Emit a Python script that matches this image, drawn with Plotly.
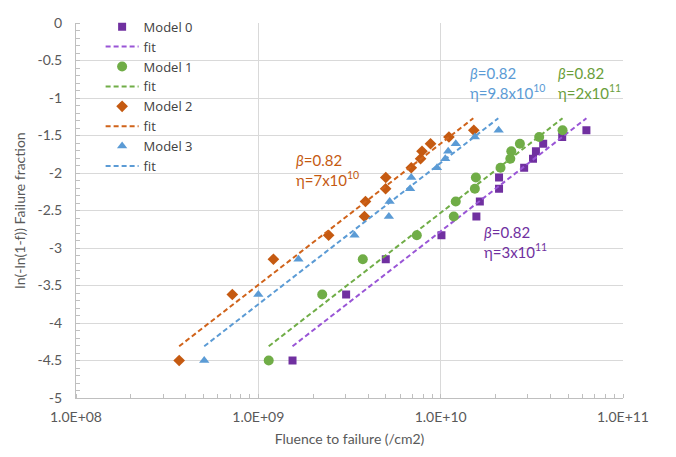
import plotly.graph_objects as go

# ---- data ----
y_rank = [-4.5, -3.62, -3.15, -2.83, -2.58, -2.38, -2.21, -2.06, -1.93, -1.81, -1.71, -1.61, -1.52, -1.43]

x_model0 = [1.54e9, 3.03e9, 5.0e9, 1.01e10, 1.57e10, 1.64e10, 2.09e10, 2.09e10, 2.87e10, 3.21e10, 3.33e10, 3.65e10, 4.64e10, 6.3e10]
x_model1 = [1.14e9, 2.24e9, 3.74e9, 7.4e9, 1.18e10, 1.21e10, 1.54e10, 1.56e10, 2.13e10, 2.41e10, 2.44e10, 2.72e10, 3.47e10, 4.66e10]
x_model2 = [3.68e8, 7.2e8, 1.21e9, 2.43e9, 3.82e9, 3.87e9, 4.99e9, 5.0e9, 6.9e9, 7.76e9, 7.9e9, 8.8e9, 1.11e10, 1.52e10]
x_model3 = [5.05e8, 1.0e9, 1.66e9, 3.37e9, 5.2e9, 5.25e9, 6.8e9, 6.9e9, 9.55e9, 1.06e10, 1.1e10, 1.21e10, 1.54e10, 2.08e10]

# fit line endpoints (x start, x end, y start, y end)
fit0_x = [1.54e9, 6.3e10]
fit1_x = [1.14e9, 4.66e10]
fit2_x = [3.68e8, 1.51e10]
fit3_x = [5.05e8, 2.07e10]
fit_y = [-4.31, -1.27]

names = ["Model 0", "Model 1", "Model 2", "Model 3"]
beta_labels = ["0.82", "0.82", "0.82", "0.82"]
eta_labels = ["3x10<sup>11</sup>", "2x10<sup>11</sup>", "7x10<sup>10</sup>", "9.8x10<sup>10</sup>"]

x_ticks = [1e8, 1e9, 1e10, 1e11]
x_ticktext = ["1.0E+08", "1.0E+09", "1.0E+10", "1.0E+11"]
y_ticks = [0, -0.5, -1, -1.5, -2, -2.5, -3, -3.5, -4, -4.5, -5]
y_ticktext = ["0", "-0.5", "-1", "-1.5", "-2", "-2.5", "-3", "-3.5", "-4", "-4.5", "-5"]

# ---- styling ----
marker_colors = ["#7030A0", "#70AD47", "#C55A11", "#5B9BD5"]
line_colors = ["#9955D6", "#70AD47", "#D0631A", "#5B9BD5"]
text_colors = ["#7030A0", "#6A9E3A", "#C55A11", "#5B9BD5"]
symbols = ["square", "circle", "diamond", "triangle-up"]
sizes = [8, 10, 9, 9]
FONT = "Lato"

xs = [x_model0, x_model1, x_model2, x_model3]
fits = [fit0_x, fit1_x, fit2_x, fit3_x]

fig = go.Figure()
for i in range(4):
    fig.add_trace(go.Scatter(
        x=xs[i], y=y_rank, mode="markers", name=names[i],
        marker=dict(symbol=symbols[i], size=sizes[i], color=marker_colors[i], line=dict(width=0)),
    ))
    fig.add_trace(go.Scatter(
        x=fits[i], y=fit_y, mode="lines", name="fit",
        line=dict(color=line_colors[i], width=2, dash="5px,3px"),
    ))

# annotations: (x in log10 units, y)
ann_pos = [(10.225, -2.92), (10.632, -0.80), (9.195, -1.96), (10.15, -0.80)]
for i, (ax, ay) in enumerate(ann_pos):
    fig.add_annotation(
        x=ax, y=ay, xref="x", yref="y", xanchor="left", yanchor="middle", align="left",
        text=f"<i>β</i>={beta_labels[i]}<br>η={eta_labels[i]}", showarrow=False,
        font=dict(family=FONT, size=15, color=text_colors[i]),
    )

axis_font = dict(family=FONT, size=14, color="#595959")
fig.update_layout(
    width=676, height=457,
    margin=dict(l=76, r=53, t=13, b=59),
    paper_bgcolor="white", plot_bgcolor="white",
    font=dict(family=FONT, size=14, color="#404040"),
    showlegend=True,
    legend=dict(
        x=0.045, y=1.03, xanchor="left", yanchor="top",
        bgcolor="rgba(0,0,0,0)", font=dict(family="Open Sans", size=13, color="#404040"),
        tracegroupgap=0, itemwidth=33,
    ),
    xaxis=dict(
        type="log", range=[8, 11],
        tickvals=x_ticks, ticktext=x_ticktext, tickfont=axis_font,
        showgrid=True, gridcolor="#D9D9D9", gridwidth=1,
        showline=True, linecolor="#BFBFBF", linewidth=1,
        ticks="", zeroline=False,
        minor=dict(ticks="inside", ticklen=4, tickcolor="#BFBFBF", dtick="D1", showgrid=False),
        title=dict(text="Fluence to failure (/cm2)", font=axis_font, standoff=10),
        ticklabelstandoff=6,
    ),
    yaxis=dict(
        range=[-5, 0], tickvals=y_ticks, ticktext=y_ticktext, tickfont=axis_font,
        showgrid=True, gridcolor="#D9D9D9", gridwidth=1,
        showline=True, linecolor="#BFBFBF", linewidth=1,
        ticks="", zeroline=False,
        minor=dict(ticks="inside", ticklen=4, tickcolor="#BFBFBF", dtick=0.1, showgrid=False),
        title=dict(text="ln(-ln(1-f)) Failure fraction", font=axis_font, standoff=8),
        ticklabelstandoff=10,
    ),
)

fig.write_html("out.html")
